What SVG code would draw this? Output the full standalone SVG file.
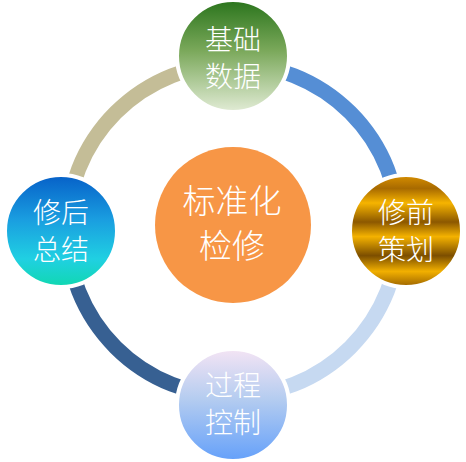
<svg xmlns="http://www.w3.org/2000/svg" width="466" height="462" viewBox="0 0 466 462">
<style>
.arc{fill:none;stroke-width:15}
.node{stroke:#fff;stroke-width:4}
.t{font-family:"Noto Sans CJK SC","Noto Sans CJK TC",sans-serif;font-weight:300;fill:#fff;text-anchor:middle;dominant-baseline:central}
.s{font-size:28px}
.c{font-size:33px}
</style>
<defs>
<linearGradient id="gTop" x1="0" y1="0" x2="0" y2="1">
<stop offset="0" stop-color="#2a741c"/>
<stop offset="0.45" stop-color="#7aa85a"/>
<stop offset="1" stop-color="#e2ecd6"/>
</linearGradient>
<linearGradient id="gRight" x1="0" y1="0" x2="0" y2="1">
<stop offset="0" stop-color="#d89000"/>
<stop offset="0.12" stop-color="#a86a00"/>
<stop offset="0.25" stop-color="#f6b400"/>
<stop offset="0.42" stop-color="#8c5800"/>
<stop offset="0.55" stop-color="#f4b200"/>
<stop offset="0.72" stop-color="#7c4e00"/>
<stop offset="0.86" stop-color="#f2b000"/>
<stop offset="1" stop-color="#9a6200"/>
</linearGradient>
<linearGradient id="gLeft" x1="0" y1="0" x2="0" y2="1">
<stop offset="0" stop-color="#0660c8"/>
<stop offset="0.4" stop-color="#1a9ee0"/>
<stop offset="0.75" stop-color="#20d0e2"/>
<stop offset="1" stop-color="#10d8b0"/>
</linearGradient>
<linearGradient id="gBottom" x1="0" y1="0" x2="0" y2="1">
<stop offset="0" stop-color="#f4e4f4"/>
<stop offset="0.45" stop-color="#b4ccf0"/>
<stop offset="1" stop-color="#64a0fa"/>
</linearGradient>
</defs>
<g id="connectors">
<path class="arc" stroke="#c4bd97" d="M 67 230 A 166 166 0 0 1 233 64"/>
<path class="arc" stroke="#558ed5" d="M 233 64 A 166 166 0 0 1 399 230"/>
<path class="arc" stroke="#c6d9f1" d="M 399 230 A 166 166 0 0 1 233 396"/>
<path class="arc" stroke="#376092" d="M 233 396 A 166 166 0 0 1 67 230"/>
</g>
<g id="center">
<circle cx="233" cy="225" r="78" fill="#f79646"/>
<text class="t c" x="232" y="199">标准化</text>
<text class="t c" x="232" y="244">检修</text>
</g>
<g id="node-top">
<circle class="node" cx="233" cy="56" r="56" fill="url(#gTop)"/>
<text class="t s" x="233" y="38">基础</text>
<text class="t s" x="233" y="75">数据</text>
</g>
<g id="node-right">
<circle class="node" cx="406" cy="231" r="56" fill="url(#gRight)"/>
<text class="t s" x="406" y="211">修前</text>
<text class="t s" x="406" y="248">策划</text>
</g>
<g id="node-bottom">
<circle class="node" cx="233" cy="405" r="56" fill="url(#gBottom)"/>
<text class="t s" x="233" y="384">过程</text>
<text class="t s" x="233" y="421">控制</text>
</g>
<g id="node-left">
<circle class="node" cx="61" cy="231" r="56" fill="url(#gLeft)"/>
<text class="t s" x="61" y="211">修后</text>
<text class="t s" x="61" y="248">总结</text>
</g>
</svg>
